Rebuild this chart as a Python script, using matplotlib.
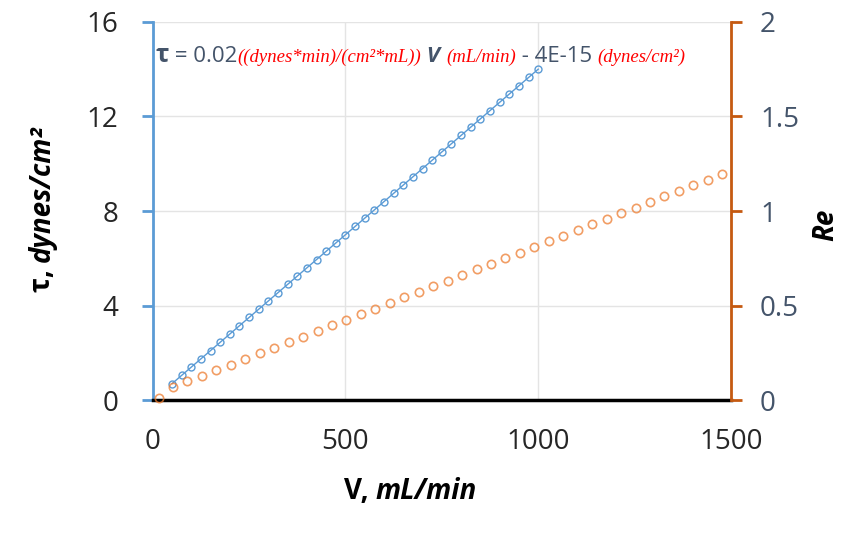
import matplotlib
matplotlib.use('Agg')
import matplotlib.pyplot as plt
from matplotlib.offsetbox import TextArea, HPacker, AnchoredOffsetbox

# flow rate V (mL/min) and wall shear stress tau (dynes/cm^2)
v_tau = [50, 75, 100, 125, 150, 175, 200, 225, 250, 275, 300, 325, 350, 375,
         400, 425, 450, 475, 500, 525, 550, 575, 600, 625, 650, 675, 700, 725,
         750, 775, 800, 825, 850, 875, 900, 925, 950, 975, 1000]
tau = [0.7, 1.05, 1.4, 1.75, 2.1, 2.45, 2.8, 3.15, 3.5, 3.85, 4.2, 4.55, 4.9,
       5.25, 5.6, 5.95, 6.3, 6.65, 7.0, 7.35, 7.7, 8.05, 8.4, 8.75, 9.1, 9.45,
       9.8, 10.15, 10.5, 10.85, 11.2, 11.55, 11.9, 12.25, 12.6, 12.95, 13.3,
       13.65, 14.0]

# flow rate V (mL/min) and Reynolds number
v_re = [15, 52.5, 90, 127.5, 165, 202.5, 240, 277.5, 315, 352.5, 390, 427.5,
        465, 502.5, 540, 577.5, 615, 652.5, 690, 727.5, 765, 802.5, 840, 877.5,
        915, 952.5, 990, 1027.5, 1065, 1102.5, 1140, 1177.5, 1215, 1252.5,
        1290, 1327.5, 1365, 1402.5, 1440, 1477.5]
re = [0.01, 0.069, 0.099, 0.129, 0.158, 0.188, 0.218, 0.247, 0.277, 0.306,
      0.336, 0.366, 0.395, 0.425, 0.455, 0.484, 0.514, 0.543, 0.573, 0.603,
      0.632, 0.662, 0.692, 0.721, 0.751, 0.780, 0.810, 0.840, 0.869, 0.899,
      0.929, 0.958, 0.988, 1.017, 1.047, 1.077, 1.106, 1.136, 1.166, 1.195]

x_ticks = [0, 500, 1000, 1500]
tau_ticks = [0, 4, 8, 12, 16]
re_ticks = [0, 0.5, 1, 1.5, 2]
re_labels = ['0', '0.5', '1', '1.5', '2']

blue = '#5B9BD5'
orange = '#ED7D31'
dark_orange = '#C55A11'
slate = '#44546A'
font = 'Open Sans'

plt.rcParams['font.family'] = [font, 'DejaVu Sans']

fig = plt.figure(figsize=(8.44, 5.35), dpi=100)
ax = fig.add_axes([0.181, 0.252, 0.685, 0.707])
ax2 = ax.twinx()

ax.plot(v_tau, tau, color=blue, lw=1, marker='o', ms=5, mfc='none',
        mec=blue, mew=1, zorder=3)
ax2.plot(v_re, re, ls='none', marker='o', ms=6, mfc='none', mec=orange,
         mew=1.2, alpha=0.75, clip_on=False)

ax.set_xlim(0, 1500)
ax.set_ylim(0, 16)
ax2.set_ylim(0, 2)
ax.set_xticks(x_ticks)
ax.set_yticks(tau_ticks)
ax2.set_yticks(re_ticks)
ax2.set_yticklabels(re_labels)

ax.grid(True, color='#E4E4E4', lw=1)
ax.set_axisbelow(True)

for a in (ax, ax2):
    a.spines['top'].set_visible(False)
ax.spines['right'].set_visible(False)
ax.spines['left'].set_color(blue)
ax.spines['left'].set_linewidth(2)
ax.spines['bottom'].set_color('black')
ax.spines['bottom'].set_linewidth(2.5)
ax2.spines['right'].set_color(dark_orange)
ax2.spines['right'].set_linewidth(2)
ax2.spines['left'].set_visible(False)
ax2.spines['bottom'].set_visible(False)

ax.tick_params(axis='x', length=0, pad=20, labelsize=20, labelcolor='#262626')
ax.tick_params(axis='y', length=8, width=2, color=blue, pad=17,
               labelsize=20, labelcolor='#262626')
ax2.tick_params(axis='y', length=8, width=2, color=dark_orange, pad=13,
                labelsize=20, labelcolor=slate)

# axis titles
xlab = HPacker(children=[
    TextArea('V, ', textprops=dict(fontsize=20, fontweight='bold')),
    TextArea('mL/min', textprops=dict(fontsize=20, fontweight='bold',
                                      style='italic')),
], align='baseline', pad=0, sep=0)
ax.add_artist(AnchoredOffsetbox(loc='center', child=xlab, frameon=False,
                                bbox_to_anchor=(0.486, 0.082),
                                bbox_transform=fig.transFigure,
                                borderpad=0, pad=0))
fig.text(0.05, 0.51, 'τ, ', rotation=90, fontsize=20, fontweight='bold',
         ha='center', va='top')
fig.text(0.05, 0.51, 'dynes/cm²', rotation=90, fontsize=20, fontweight='bold',
         style='italic', ha='center', va='bottom')
fig.text(0.978, 0.58, 'Re', rotation=90, fontsize=20, fontweight='bold',
         style='italic', ha='center', va='center')

# regression equation, assembled from pieces of different styles
serif = 'Liberation Serif'
pieces = [
    TextArea('τ', textprops=dict(fontsize=18, fontweight='bold', color=slate)),
    TextArea(' = 0.02', textprops=dict(fontsize=16, color=slate)),
    TextArea('((dynes*min)/(cm²*mL))',
             textprops=dict(fontsize=13.5, color='red', family=serif,
                            style='italic')),
    TextArea(' V ', textprops=dict(fontsize=16, color=slate, fontweight='bold',
                                   style='italic')),
    TextArea('(mL/min)', textprops=dict(fontsize=13.5, color='red',
                                        family=serif, style='italic')),
    TextArea(' - 4E-15 ', textprops=dict(fontsize=16, color=slate)),
    TextArea('(dynes/cm²)', textprops=dict(fontsize=13.5, color='red',
                                           family=serif, style='italic')),
]
eq = HPacker(children=pieces, align='baseline', pad=0, sep=0)
box = AnchoredOffsetbox(loc='upper left', child=eq, frameon=False,
                        bbox_to_anchor=(0.005, 0.945),
                        bbox_transform=ax.transAxes, borderpad=0, pad=0)
ax.add_artist(box)

fig.savefig('out.png', dpi=100)
